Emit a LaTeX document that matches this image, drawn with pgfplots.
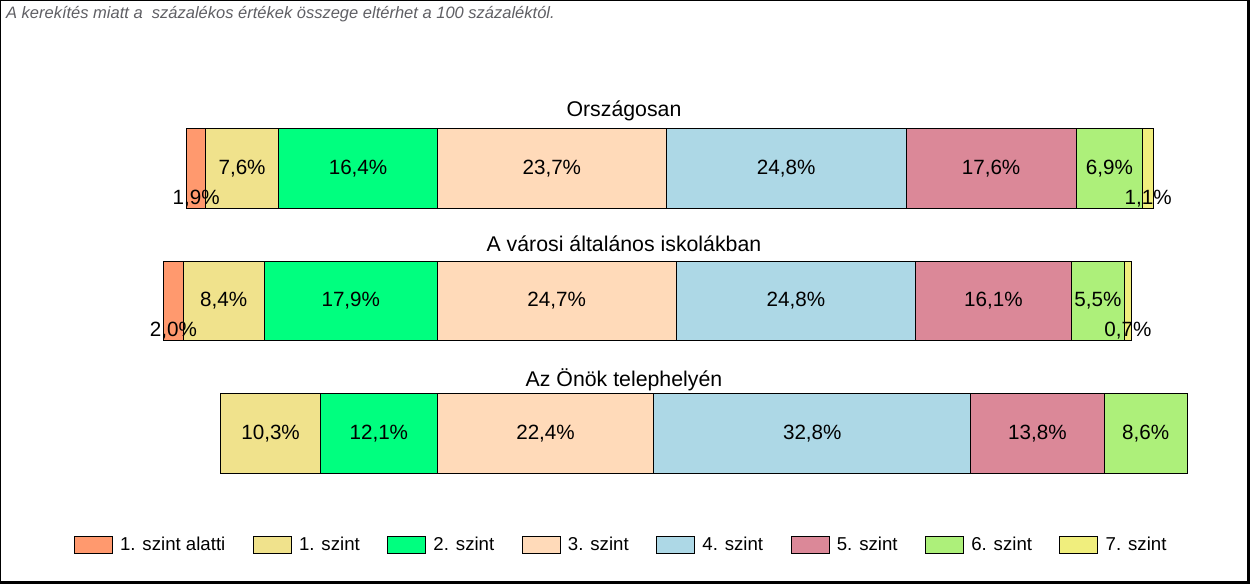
\documentclass[border=0pt]{standalone}
\usepackage{pgfplots}
\usepackage{pgfplotstable}
\pgfplotsset{compat=1.18}
\usepackage{fontspec}
\setmainfont{Liberation Sans}

\definecolor{c1}{RGB}{255,153,110}
\definecolor{c2}{RGB}{240,226,140}
\definecolor{c3}{RGB}{0,255,127}
\definecolor{c4}{RGB}{255,218,185}
\definecolor{c5}{RGB}{173,216,230}
\definecolor{c6}{RGB}{219,136,152}
\definecolor{c7}{RGB}{173,240,122}
\definecolor{c8}{RGB}{240,238,125}
\definecolor{notegray}{RGB}{95,95,100}

\newcommand{\labfont}{\fontsize{15.5}{18}\selectfont}

\pgfplotstableread{
y     a   b    c    d    e    f    g   h
168   1.9 7.6  16.4 23.7 24.8 17.6 6.9 1.1
300.5 2.0 8.4  17.9 24.7 24.8 16.1 5.5 0.7
433.5 0   10.3 12.1 22.4 32.8 13.8 8.6 0
}\data

\pgfplotsset{
  seg/.style={fill=#1, draw=black, line width=0.75pt,
    point meta=explicit,
    visualization depends on={rawx \as \rawv},
    nodes near coords={\pgfmathfloatifflags{\pgfplotspointmeta}{0}{}{\pgfmathprintnumber{\pgfplotspointmeta}\%}},
    every node near coord/.append style={anchor=center, yshift={ifthenelse(\rawv<3,-22.5,0)}, font=\labfont, text=black, inner sep=0pt},
  },
}

\begin{document}
\begin{tikzpicture}
\begin{axis}[
  x=7.26pt, y=0.75pt,
  xmin=0, xmax=129.133,
  ymin=0, ymax=583,
  y dir=reverse,
  xbar stacked,
  bar width=80,
  xtick=\empty, ytick=\empty,
  axis line style={line width=0.75pt},
  clip=false,
  /pgf/number format/.cd, fixed, fixed zerofill, precision=1, use comma, assume math mode=true,
  /pgfplots/.cd,
  legend columns=9,
  legend image code/.code={\draw[#1, line width=0.75pt] (0pt,-6.4pt) rectangle (28.5pt,6.4pt);},
  legend style={draw=none, fill=none, inner sep=0pt, outer sep=0pt,
    at={(axis cs:3.8,545)}, anchor=west,
    font=\fontsize{14}{16}\selectfont,
    nodes={inner sep=0pt},
    /tikz/every odd column/.append style={column sep=5.5pt},
    /tikz/every even column/.append style={column sep=20.6pt}},
]
% invisible offset: the 2./3. szint boundary sits at x = 45.145
\addplot[draw=none, fill=none, legend image code/.code={}] table[y=y, x expr={45.145-\thisrow{a}-\thisrow{b}-\thisrow{c}}]{\data};
\addlegendentry{}
\addplot[seg=c1] table[x=a, y=y, meta=a]{\data};
\addlegendentry{1. szint alatti}
\addplot[seg=c2] table[x=b, y=y, meta=b]{\data};
\addlegendentry{1. szint}
\addplot[seg=c3] table[x=c, y=y, meta=c]{\data};
\addlegendentry{2. szint}
\addplot[seg=c4] table[x=d, y=y, meta=d]{\data};
\addlegendentry{3. szint}
\addplot[seg=c5] table[x=e, y=y, meta=e]{\data};
\addlegendentry{4. szint}
\addplot[seg=c6] table[x=f, y=y, meta=f]{\data};
\addlegendentry{5. szint}
\addplot[seg=c7] table[x=g, y=y, meta=g]{\data};
\addlegendentry{6. szint}
\addplot[seg=c8] table[x=h, y=y, meta=h]{\data};
\addlegendentry{7. szint}

\node[font=\fontsize{16}{19}\selectfont] at (axis cs:64.46,110) {Országosan};
\node[font=\fontsize{16}{19}\selectfont] at (axis cs:64.46,243) {A városi általános iskolákban};
\node[font=\fontsize{16}{19}\selectfont] at (axis cs:64.46,379) {Az Önök telephelyén};
\node[font=\fontsize{12.4}{15}\selectfont\itshape, text=notegray, anchor=west, inner sep=0pt] at (axis cs:0.5,13) {A kerekítés miatt a\ \ százalékos értékek összege eltérhet a 100 százaléktól.};
\draw[line width=1.5pt] (axis cs:129.03,0) -- (axis cs:129.03,583);
\draw[line width=1.5pt] (axis cs:0,582) -- (axis cs:129.133,582);
\end{axis}
\end{tikzpicture}
\end{document}
